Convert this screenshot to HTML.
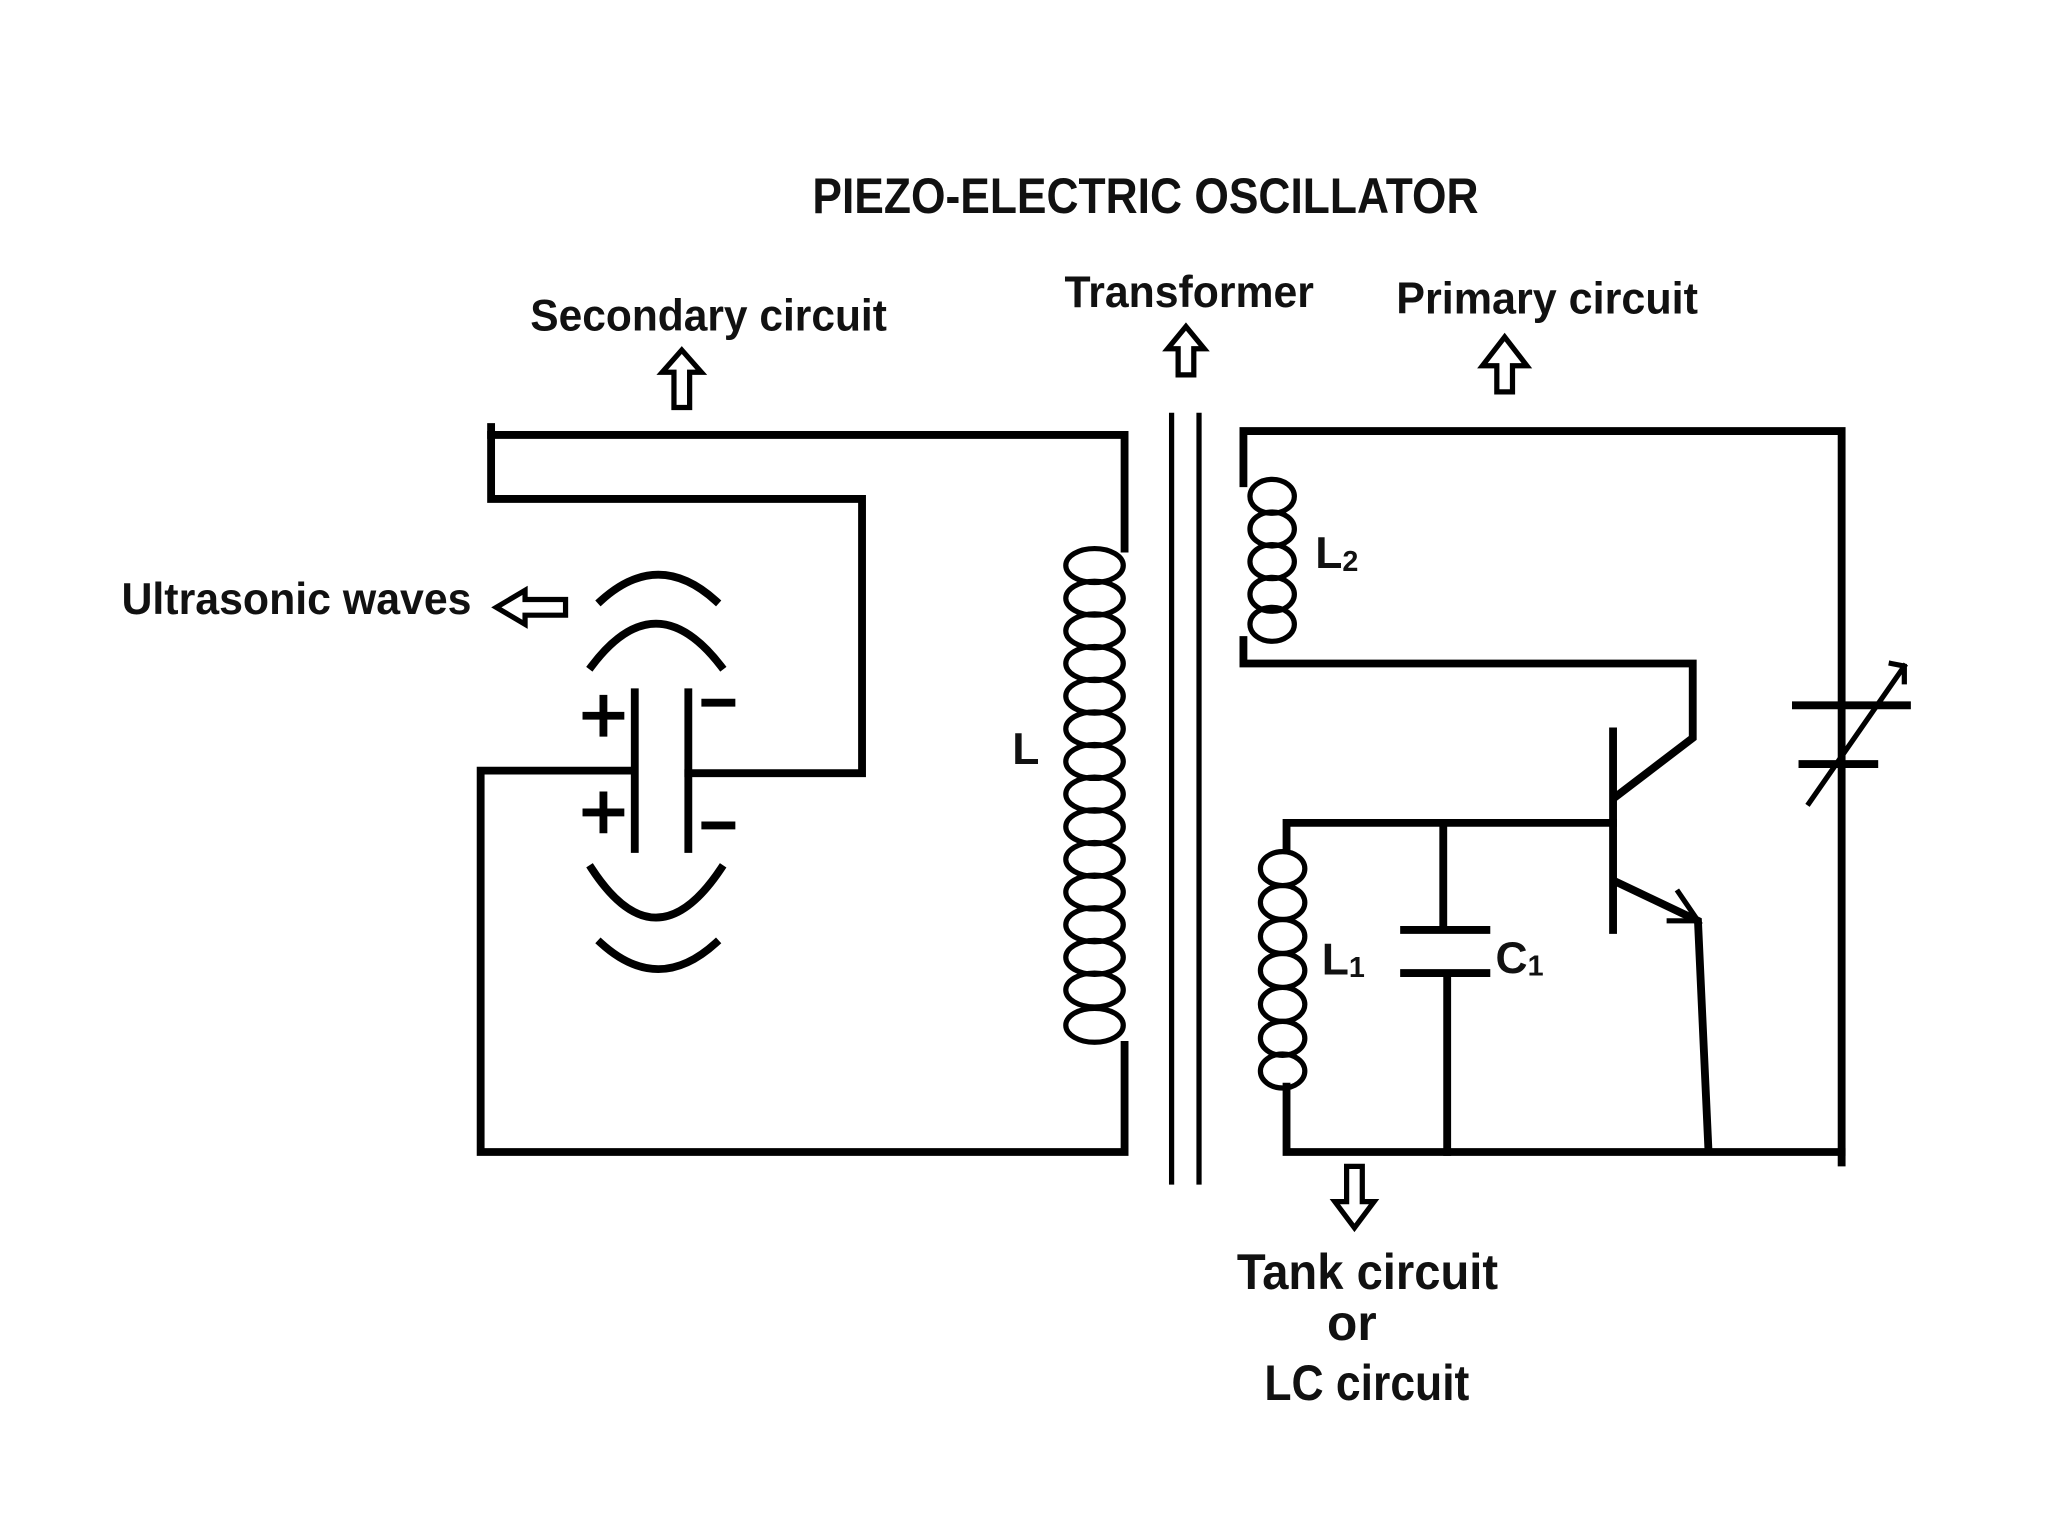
<!DOCTYPE html>
<html><head><meta charset="utf-8"><style>
html,body{margin:0;padding:0;background:#fff;}
svg{display:block;}
text{font-family:"Liberation Sans",sans-serif;font-weight:bold;fill:#111;}
</style></head><body>
<svg width="2048" height="1536" viewBox="0 0 1568 1176" xmlns="http://www.w3.org/2000/svg">
<rect width="1568" height="1176" fill="#fff"/>
<text x="622" y="163" font-size="38" textLength="510" lengthAdjust="spacingAndGlyphs">PIEZO-ELECTRIC OSCILLATOR</text>
<text x="406" y="253" font-size="34" textLength="273" lengthAdjust="spacingAndGlyphs">Secondary circuit</text>
<text x="815" y="235" font-size="34" textLength="191" lengthAdjust="spacingAndGlyphs">Transformer</text>
<text x="1069" y="240" font-size="34" textLength="231" lengthAdjust="spacingAndGlyphs">Primary circuit</text>
<text x="93" y="470" font-size="34" textLength="268" lengthAdjust="spacingAndGlyphs">Ultrasonic waves</text>
<text x="775" y="585" font-size="34">L</text>
<text x="1007" y="435" font-size="34">L<tspan font-size="22" dy="2">2</tspan></text>
<text x="1012" y="746" font-size="34">L<tspan font-size="22" dy="2">1</tspan></text>
<text x="1145" y="745" font-size="34">C<tspan font-size="22" dy="2">1</tspan></text>
<text x="947" y="987" font-size="38" textLength="200" lengthAdjust="spacingAndGlyphs">Tank circuit</text>
<text x="1016" y="1026" font-size="38">or</text>
<text x="968" y="1072" font-size="38" textLength="157" lengthAdjust="spacingAndGlyphs">LC circuit</text>

<g fill="none" stroke="#000" stroke-width="6" stroke-linecap="square">
<!-- secondary -->
<path d="M376,327 V382 H660 V592 H527"/>
<path d="M376,333 H861 V420"/>
<path d="M861,800 V882 H368 V590 H484"/>
<path d="M486,530 V650 M527,530 V650"/>
<path d="M449,548 H475 M462,535 V561 M449,622 H475 M462,609 V635 M540,538 H560 M540,632 H560"/>
<path d="M460,460 Q504,420 548,460"/>
<path d="M453,510 Q502,445 552,510"/>
<path d="M453,665 Q502,740 552,665"/>
<path d="M460,722 Q504,762 548,722"/>
<!-- transformer -->
<path d="M897,318 V905 M918,318 V905" stroke-width="4"/>
<!-- primary -->
<path d="M952,370 V330 H1410 V890"/>
<path d="M952,490 V508 H1296 V565 L1237,610"/>
<path d="M1235,560 V712"/>
<path d="M985,650 V630 H1235"/>
<path d="M1237,675 L1300,705 L1308,880"/>
<path d="M1285,683 L1300,705 L1278,705" stroke-width="4"/>
<path d="M985,832 V882 H1410"/>
<path d="M1105,635 V712 M1075,712 H1138 M1075,745 H1138 M1108,745 V882"/>
<path d="M1375,540 H1460 M1380,585 H1435"/>
<path d="M1385,615 L1458,510 M1448,508 L1458,510 L1458,522" stroke-width="4"/>
</g>
<!-- coils -->
<g fill="none" stroke="#000" stroke-width="4">
<ellipse cx="838" cy="433" rx="22" ry="13"/>
<ellipse cx="838" cy="458" rx="22" ry="13"/>
<ellipse cx="838" cy="483" rx="22" ry="13"/>
<ellipse cx="838" cy="508" rx="22" ry="13"/>
<ellipse cx="838" cy="533" rx="22" ry="13"/>
<ellipse cx="838" cy="558" rx="22" ry="13"/>
<ellipse cx="838" cy="583" rx="22" ry="13"/>
<ellipse cx="838" cy="608" rx="22" ry="13"/>
<ellipse cx="838" cy="633" rx="22" ry="13"/>
<ellipse cx="838" cy="658" rx="22" ry="13"/>
<ellipse cx="838" cy="683" rx="22" ry="13"/>
<ellipse cx="838" cy="708" rx="22" ry="13"/>
<ellipse cx="838" cy="733" rx="22" ry="13"/>
<ellipse cx="838" cy="758" rx="22" ry="13"/>
<ellipse cx="838" cy="785" rx="22" ry="13"/>
<ellipse cx="974" cy="380" rx="17" ry="13"/>
<ellipse cx="974" cy="405" rx="17" ry="13"/>
<ellipse cx="974" cy="430" rx="17" ry="13"/>
<ellipse cx="974" cy="455" rx="17" ry="13"/>
<ellipse cx="974" cy="478" rx="17" ry="13"/>
<ellipse cx="982" cy="665" rx="17" ry="13"/>
<ellipse cx="982" cy="691" rx="17" ry="13"/>
<ellipse cx="982" cy="717" rx="17" ry="13"/>
<ellipse cx="982" cy="743" rx="17" ry="13"/>
<ellipse cx="982" cy="769" rx="17" ry="13"/>
<ellipse cx="982" cy="795" rx="17" ry="13"/>
<ellipse cx="982" cy="820" rx="17" ry="13"/>
</g>
<!-- hollow arrows -->
<g fill="#fff" stroke="#000" stroke-width="4" stroke-linejoin="miter">
<path d="M522,268 L537,285 L528,285 L528,312 L516,312 L516,285 L507,285 Z"/>
<path d="M908,250 L922,267 L914,267 L914,287 L902,287 L902,267 L894,267 Z"/>
<path d="M1152,258 L1169,280 L1158,280 L1158,300 L1146,300 L1146,280 L1135,280 Z"/>
<path d="M1037,940 L1022,920 L1031,920 L1031,893 L1043,893 L1043,920 L1052,920 Z"/>
<path d="M380,465 L402,452 L402,459 L433,459 L433,471 L402,471 L402,478 Z"/>
</g>
</svg>
</body></html>
